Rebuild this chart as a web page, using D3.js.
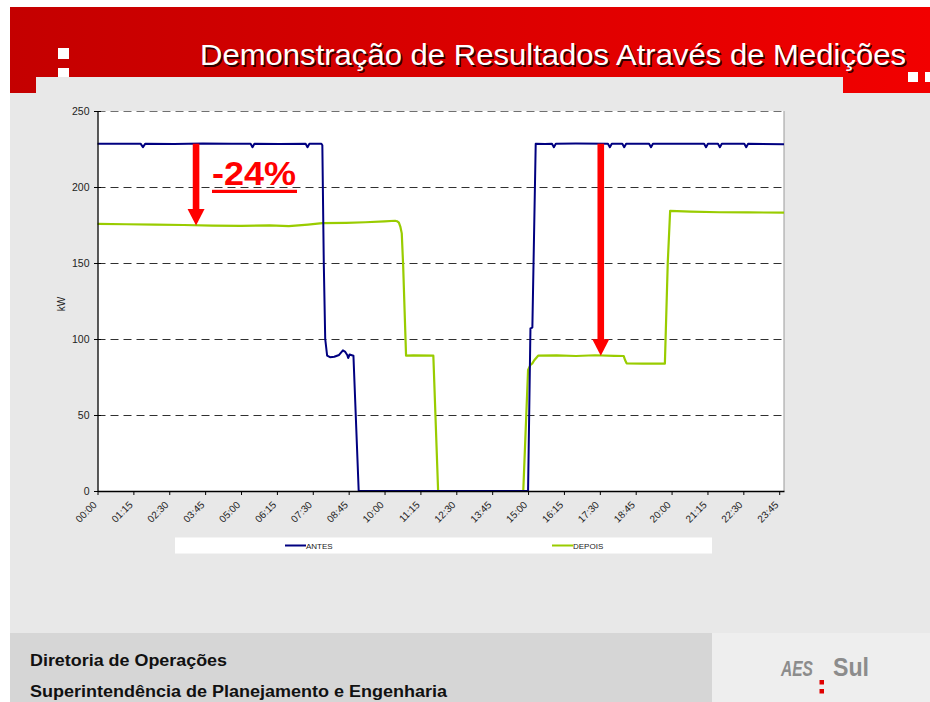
<!DOCTYPE html>
<html>
<head>
<meta charset="utf-8">
<script src="https://cdn.jsdelivr.net/npm/d3@7"></script>
<style>
  html, body { margin: 0; padding: 0; background: #fff; }
  svg { display: block; font-family: "Liberation Sans", Arial, sans-serif; }
</style>
</head>
<body>
<svg id="chart" width="930" height="702"></svg>
<script>
// ---------------- DATA ----------------
const titleText = "Demonstração de Resultados Através de Medições";
const footerLines = ["Diretoria de Operações", "Superintendência de Planejamento e Engenharia"];
const yAxisLabel = "kW";
const yTicks = [0, 50, 100, 150, 200, 250];
const xTickLabels = ["00:00","01:15","02:30","03:45","05:00","06:15","07:30","08:45","10:00","11:15",
                     "12:30","13:45","15:00","16:15","17:30","18:45","20:00","21:15","22:30","23:45"];
const seriesNames = ["ANTES", "DEPOIS"];

// time in minutes after midnight, values in kW
const antesTime = [0, 40, 90, 95, 100, 160, 220, 280, 320, 324, 328, 380, 435, 439, 443, 468, 470, 473, 476, 480,
  486, 495, 505, 513, 518, 522, 524, 527, 530, 535, 546, 900, 905, 909, 916, 935, 950, 954, 958, 1000,
  1067, 1071, 1075, 1097, 1101, 1105, 1153, 1157, 1161, 1200, 1268, 1272, 1276, 1297, 1301, 1305,
  1352, 1356, 1360, 1435];
const antesKW = [228.5, 228.4, 228.5, 226.2, 228.5, 228.3, 228.6, 228.4, 228.5, 226.2, 228.5, 228.3, 228.5, 226.2, 228.5, 228.5, 227.5, 150, 100, 89,
  88, 88.3, 89.5, 92.5, 91.5, 89.5, 87.5, 89.8, 89.5, 89, 0, 0, 107, 107.5, 228.5, 228.3, 228.5, 226.2, 228.5, 228.6,
  228.5, 226.2, 228.5, 228.5, 226.2, 228.5, 228.5, 226.2, 228.5, 228.4, 228.5, 226.2, 228.5, 228.5, 226.2, 228.5,
  228.4, 226.2, 228.4, 228.2];

const depoisTime = [0, 60, 120, 180, 240, 300, 360, 400, 440, 470, 520, 560, 600, 622, 626, 630, 633, 636, 639, 642, 645,
  660, 702, 712, 890, 900, 905, 909, 913, 921, 960, 1000, 1040, 1080, 1100, 1103, 1106, 1140, 1186, 1192, 1197,
  1240, 1300, 1360, 1435];
const depoisKW = [175.7, 175.5, 175.3, 175.0, 174.6, 174.4, 174.8, 174.2, 175.3, 176.2, 176.4, 176.8, 177.4, 177.8, 177.5, 176.5, 174, 169.5, 147.6, 118, 89,
  89.2, 89, 0, 0, 79.6, 83, 84, 86, 89, 89.2, 88.8, 89.3, 88.9, 88.8, 86, 84, 83.8, 83.8, 150, 184.3,
  183.8, 183.4, 183.3, 183.1];

// annotation: arrows at given times, from ANTES level to DEPOIS level
const arrowTimes = [206, 1052];
const arrowFrom = [228.5, 228.5];
const arrowTo = [174.6, 89];
const reductionLabel = "-24%";

// ---------------- DRAW ----------------
const svg = d3.select("#chart");
const defs = svg.append("defs");
const grad = defs.append("linearGradient").attr("id", "redgrad").attr("x1", "0").attr("x2", "1").attr("y1", "0").attr("y2", "0");
grad.append("stop").attr("offset", "0").attr("stop-color", "#c40000");
grad.append("stop").attr("offset", "1").attr("stop-color", "#f20000");

svg.append("rect").attr("width", 930).attr("height", 702).attr("fill", "#ffffff");
// header
svg.append("rect").attr("x", 10).attr("y", 7).attr("width", 920).attr("height", 86).attr("fill", "url(#redgrad)");
svg.append("rect").attr("x", 10).attr("y", 93).attr("width", 920).attr("height", 540).attr("fill", "#e8e8e8");
svg.append("rect").attr("x", 36).attr("y", 77).attr("width", 807).attr("height", 16).attr("fill", "#e8e8e8");
// white squares
[[58, 48, 11, 11], [58, 68, 11, 9], [908, 72, 10, 10], [925, 72, 5, 10]].forEach(s =>
  svg.append("rect").attr("x", s[0]).attr("y", s[1]).attr("width", s[2]).attr("height", s[3]).attr("fill", "#ffffff"));
// title with shadow
svg.append("text").attr("x", 906 + 1.5).attr("y", 65 + 1.5).attr("text-anchor", "end")
  .attr("font-size", 30).attr("fill", "#300000").attr("textLength", 706).attr("lengthAdjust", "spacingAndGlyphs")
  .text(titleText);
svg.append("text").attr("x", 906).attr("y", 65).attr("text-anchor", "end")
  .attr("font-size", 30).attr("fill", "#ffffff").attr("textLength", 706).attr("lengthAdjust", "spacingAndGlyphs")
  .text(titleText);

// footer
svg.append("rect").attr("x", 10).attr("y", 633).attr("width", 702).attr("height", 69).attr("fill", "#d6d6d6");
svg.append("rect").attr("x", 712).attr("y", 633).attr("width", 218).attr("height", 69).attr("fill", "#eeeeee");
svg.append("text").attr("x", 30).attr("y", 666).attr("font-size", 16).attr("font-weight", "bold").attr("fill", "#111")
  .attr("textLength", 197).attr("lengthAdjust", "spacingAndGlyphs").text(footerLines[0]);
svg.append("text").attr("x", 30).attr("y", 697).attr("font-size", 16).attr("font-weight", "bold").attr("fill", "#111")
  .attr("textLength", 417).attr("lengthAdjust", "spacingAndGlyphs").text(footerLines[1]);
// logo
svg.append("text").attr("x", 781).attr("y", 676).attr("font-size", 22).attr("font-weight", "bold").attr("font-style", "italic")
  .attr("fill", "#8c8c8c").attr("textLength", 32).attr("lengthAdjust", "spacingAndGlyphs").text("AES");
svg.append("text").attr("x", 833).attr("y", 676).attr("font-size", 25).attr("font-weight", "bold")
  .attr("fill", "#8c8c8c").attr("textLength", 36).attr("lengthAdjust", "spacingAndGlyphs").text("Sul");
svg.append("rect").attr("x", 819.5).attr("y", 680).attr("width", 4.5).attr("height", 4.5).attr("fill", "#e00000");
svg.append("rect").attr("x", 819.5).attr("y", 689).attr("width", 4.5).attr("height", 4.5).attr("fill", "#e00000");

// chart
const x = d3.scaleLinear().domain([0, 1435]).range([97.5, 784]);
const y = d3.scaleLinear().domain([0, 250]).range([491, 111]);

svg.append("rect").attr("x", x(0)).attr("y", y(250)).attr("width", x(1435) - x(0)).attr("height", y(0) - y(250)).attr("fill", "#ffffff");
svg.append("line").attr("x1", x(1435)).attr("x2", x(1435)).attr("y1", y(250)).attr("y2", y(0)).attr("stroke", "#9a9a9a").attr("stroke-width", 1);

// gridlines
svg.append("g").selectAll("line").data(yTicks.filter(v => v > 0)).join("line")
  .attr("x1", x(0)).attr("x2", x(1435)).attr("y1", d => Math.round(y(d)) + 0.5).attr("y2", d => Math.round(y(d)) + 0.5)
  .attr("stroke", d => d === 250 ? "#707070" : "#303030").attr("stroke-width", 1).attr("stroke-dasharray", "8,5");

// series
const line = d3.line().x(d => x(d[0])).y(d => y(d[1])).curve(d3.curveLinear);
const antes = antesTime.map((t, i) => [t, antesKW[i]]);
const depois = depoisTime.map((t, i) => [t, depoisKW[i]]);
svg.append("path").datum(depois).attr("d", line).attr("fill", "none").attr("stroke", "#99cc00").attr("stroke-width", 2.2).attr("stroke-linejoin", "round");
svg.append("path").datum(antes).attr("d", line).attr("fill", "none").attr("stroke", "#000080").attr("stroke-width", 2).attr("stroke-linejoin", "round");

// axes
const tickMinutes = xTickLabels.map(s => { const p = s.split(":"); return +p[0] * 60 + +p[1]; });
const xAxis = d3.axisBottom(x).tickValues(tickMinutes).tickSize(4).tickSizeOuter(0).tickFormat((d, i) => xTickLabels[i]);
const gx = svg.append("g").attr("transform", `translate(0,${y(0)})`).call(xAxis);
gx.select(".domain").attr("stroke", "#000").attr("stroke-width", 1.3);
gx.selectAll(".tick line").attr("stroke", "#000");
gx.selectAll(".tick text").attr("font-size", 10).attr("fill", "#222").attr("font-family", "Liberation Sans, Arial, sans-serif")
  .attr("text-anchor", "end").attr("dy", "0.35em").attr("y", 0)
  .attr("transform", "translate(-3,12) rotate(-45)");

const yAxis = d3.axisLeft(y).tickValues(yTicks).tickSize(4).tickPadding(4).tickSizeOuter(0);
const gy = svg.append("g").attr("transform", `translate(${x(0)},0)`).call(yAxis);
gy.select(".domain").attr("stroke", "#000").attr("stroke-width", 1.3);
gy.selectAll(".tick line").attr("stroke", "#000").attr("x1", 3.5).attr("x2", -3.5);
gy.selectAll(".tick text").attr("font-size", 10.5).attr("fill", "#222").attr("font-family", "Liberation Sans, Arial, sans-serif");

svg.append("text").attr("transform", "translate(65,304) rotate(-90)").attr("text-anchor", "middle")
  .attr("font-size", 10).attr("fill", "#222").text(yAxisLabel);

// legend
svg.append("rect").attr("x", 175).attr("y", 537.5).attr("width", 537).attr("height", 16).attr("fill", "#ffffff");
const legendX = [285, 552];
const legendColors = ["#000080", "#99cc00"];
seriesNames.forEach((n, i) => {
  svg.append("line").attr("x1", legendX[i]).attr("x2", legendX[i] + 21).attr("y1", 545.5).attr("y2", 545.5)
    .attr("stroke", legendColors[i]).attr("stroke-width", 2);
  svg.append("text").attr("x", legendX[i] + 21).attr("y", 548.5).attr("font-size", 8).attr("fill", "#222").text(n);
});

// annotation arrows
arrowTimes.forEach((t, i) => {
  const ax = x(t), y0 = y(arrowFrom[i]), y1 = y(arrowTo[i]);
  const headH = 16.5, headW = 8.5;
  svg.append("rect").attr("x", ax - 3.3).attr("y", y0).attr("width", 6.6).attr("height", (y1 - headH) - y0 + 1).attr("fill", "#ff0000");
  svg.append("path").attr("d", `M${ax - headW},${y1 - headH} L${ax + headW},${y1 - headH} L${ax},${y1} Z`).attr("fill", "#ff0000");
});
svg.append("text").attr("x", 212).attr("y", 185).attr("font-size", 34).attr("font-weight", "bold").attr("fill", "#ff0000")
  .attr("textLength", 84).attr("lengthAdjust", "spacingAndGlyphs").text(reductionLabel);
svg.append("rect").attr("x", 212).attr("y", 189.8).attr("width", 85).attr("height", 3.2).attr("fill", "#ff0000");
</script>
</body>
</html>
